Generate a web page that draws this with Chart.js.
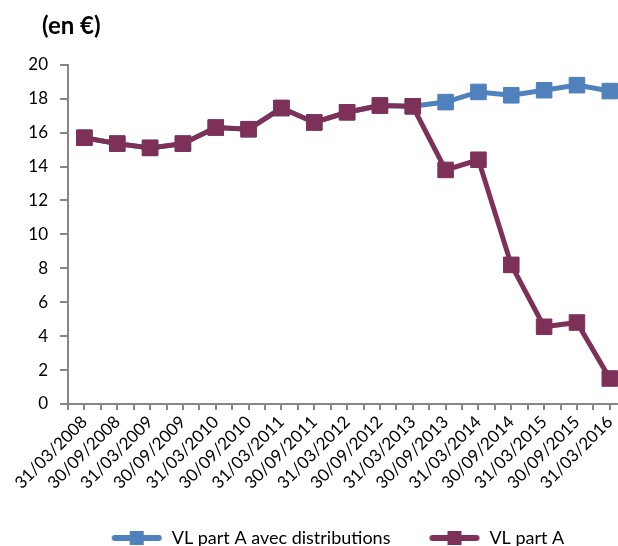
<!DOCTYPE html>
<html>
<head>
<meta charset="utf-8">
<script src="https://cdn.jsdelivr.net/npm/chart.js@4/dist/chart.umd.min.js"></script>
<style>
  html, body { margin: 0; padding: 0; background: #fff; overflow: hidden; }
  #wrap { width: 630px; height: 557px; }
</style>
</head>
<body>
<div id="wrap"><canvas id="chart"></canvas></div>
<script>
// dates of the valuations (x axis)
const dates = [
  '31/03/2008', '30/09/2008', '31/03/2009', '30/09/2009', '31/03/2010',
  '30/09/2010', '31/03/2011', '30/09/2011', '31/03/2012', '30/09/2012',
  '31/03/2013', '30/09/2013', '31/03/2014', '30/09/2014', '31/03/2015',
  '30/09/2015', '31/03/2016'
]

// VL part A avec distributions
const vlWithDistrib = [15.7, 15.35, 15.1, 15.35, 16.3, 16.2, 17.45, 16.6, 17.2, 17.6,
  17.55, 17.8, 18.4, 18.2, 18.5, 18.8, 18.45]

// VL part A
const vlPartA = [15.7, 15.35, 15.1, 15.35, 16.3, 16.2, 17.45, 16.6, 17.2, 17.6,
  17.55, 13.8, 14.4, 8.2, 4.55, 4.8, 1.5]

const yTicks = { min: 0, max: 20, step: 2 }

const BLUE = '#4f81bd'
const PURPLE = '#7e3158'
const FONT = 'Lato, "Open Sans", sans-serif'

// line + square legend symbol, like the excel one
function legendSymbol(color) {
  const c = document.createElement('canvas')
  c.width = 52
  c.height = 16
  const g = c.getContext('2d')
  g.strokeStyle = color
  g.lineWidth = 6
  g.lineCap = 'round'
  g.beginPath()
  g.moveTo(4, 8)
  g.lineTo(48, 8)
  g.stroke()
  g.fillStyle = color
  g.fillRect(19, 1, 14, 14)
  return c
}

const toPoints = (arr) => arr.map((v, i) => ({ x: i, y: v }))

// nudge title and legend like in the original
const nudge = {
  id: 'nudge',
  afterLayout(chart) {
    chart.legend.left += 9
    chart.legend.right += 9
    chart.titleBlock.left += 15
    chart.titleBlock.right += 15
  }
}

new Chart(document.getElementById('chart'), {
  type: 'line',
  data: {
    datasets: [
      {
        label: 'VL part A avec distributions',
        data: toPoints(vlWithDistrib),
        borderColor: BLUE,
        backgroundColor: BLUE,
        borderWidth: 5,
        pointStyle: 'rect',
        pointRadius: 11,
        pointBorderWidth: 1,
        order: 1
      },
      {
        label: 'VL part A',
        data: toPoints(vlPartA),
        borderColor: PURPLE,
        backgroundColor: PURPLE,
        borderWidth: 5,
        pointStyle: 'rect',
        pointRadius: 11,
        pointBorderWidth: 1,
        order: 0
      }
    ]
  },
  options: {
    responsive: true,
    maintainAspectRatio: false,
    animation: false,
    layout: { padding: { left: 27, right: 0, top: 0, bottom: 0 } },
    scales: {
      x: {
        type: 'linear',
        min: -0.5,
        max: 16.25,
        afterFit: (scale) => {
          // let the rotated labels hang out like excel does
          scale.paddingLeft = 0
          scale.paddingRight = 0
          scale.height -= 4
        },
        grid: { display: true, drawOnChartArea: false, color: '#868686', tickLength: 6, lineWidth: 2 },
        border: { color: '#868686', width: 2 },
        ticks: {
          stepSize: 0.5,
          includeBounds: false,
          autoSkip: false,
          maxTicksLimit: 100,
          minRotation: 45,
          maxRotation: 45,
          color: '#000',
          padding: 2,
          font: { family: FONT, size: 17 },
          callback: (v) => Number.isInteger(v) ? dates[v] : ''
        }
      },
      y: {
        min: yTicks.min,
        max: yTicks.max,
        afterFit: (scale) => { scale.width = 41 },
        grid: { display: true, drawOnChartArea: false, color: '#868686', tickLength: 8, lineWidth: 2 },
        border: { color: '#868686', width: 2 },
        ticks: {
          stepSize: yTicks.step,
          color: '#000',
          padding: 12,
          font: { family: FONT, size: 17 }
        }
      }
    },
    plugins: {
      title: {
        display: true,
        text: '(en €)',
        align: 'start',
        color: '#000',
        font: { family: FONT, size: 24, weight: 'bold' },
        padding: { top: 12, bottom: 24 }
      },
      tooltip: { enabled: false },
      legend: {
        position: 'bottom',
        labels: {
          usePointStyle: true,
          pointStyleWidth: 52,
          padding: 38,
          color: '#000',
          font: { family: FONT, size: 18 },
          sort: (a, b) => a.datasetIndex - b.datasetIndex,
          generateLabels: (chart) => {
            const items = Chart.defaults.plugins.legend.labels.generateLabels(chart)
            items.forEach(item => {
              const color = item.datasetIndex === 0 ? BLUE : PURPLE
              item.pointStyle = legendSymbol(color)
            })
            return items
          }
        }
      }
    }
  },
  plugins: [nudge]
})
</script>
</body>
</html>
